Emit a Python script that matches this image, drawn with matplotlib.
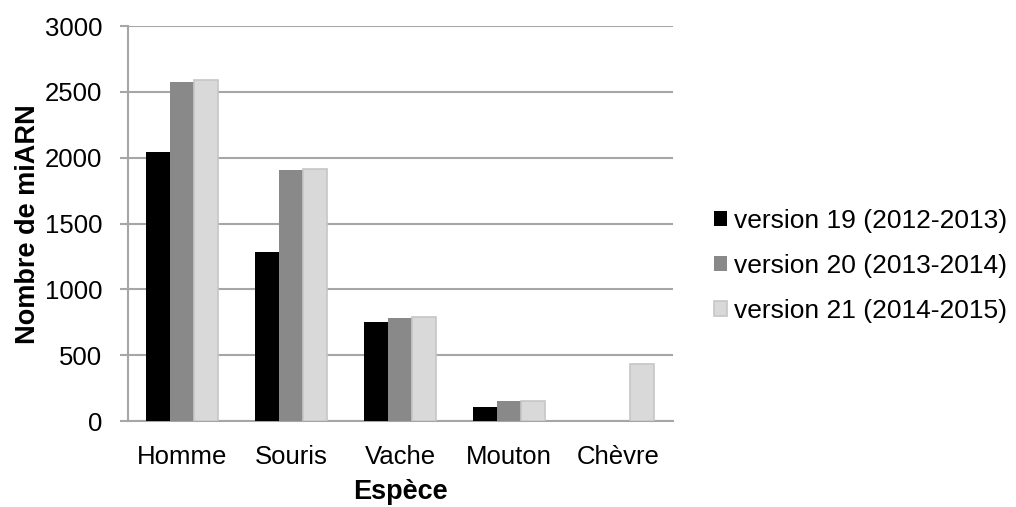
import matplotlib
matplotlib.use("Agg")
import matplotlib.pyplot as plt
import numpy as np

species = ["Homme", "Souris", "Vache", "Mouton", "Chèvre"]
series_labels = ["version 19 (2012-2013)", "version 20 (2013-2014)", "version 21 (2014-2015)"]
v19 = [2042, 1281, 755, 106, 0]
v20 = [2578, 1908, 783, 153, 0]
v21 = [2588, 1915, 793, 153, 436]
yticks = [0, 500, 1000, 1500, 2000, 2500, 3000]

colors = ["#000000", "#898989", "#d9d9d9"]
edges = ["#000000", "#898989", "#c6c6c6"]
edge_w = [0, 0, 1.2]
grid_c = "#a6a6a6"

plt.rcParams["font.family"] = ["Liberation Sans", "DejaVu Sans"]
fs_tick = 18.5
fs_leg = 19
fs_lab = 19.5

fig = plt.figure(figsize=(10.16, 5.07), dpi=100)
ax = fig.add_axes([0.1255, 0.1696, 0.5367, 0.7791])

x = np.arange(len(species))
w = 0.22
for i, (vals, lab) in enumerate(zip([v19, v20, v21], series_labels)):
    ax.bar(x + (i - 1) * w, vals, width=w, color=colors[i], edgecolor=edges[i],
           linewidth=edge_w[i], label=lab, zorder=3)

ax.set_xlim(-0.5, len(species) - 0.5)
ax.set_ylim(0, 3000)
ax.set_yticks(yticks)
ax.set_xticks(x)
ax.set_xticklabels(species, fontsize=fs_tick)
ax.tick_params(axis="y", labelsize=fs_tick, length=6, width=1.5, color=grid_c, pad=12)
ax.tick_params(axis="x", length=0, pad=17)
ax.yaxis.grid(True, color=grid_c, linewidth=1.5, zorder=0)
ax.set_axisbelow(True)
for s in ["top", "right"]:
    ax.spines[s].set_visible(False)
for s in ["left", "bottom"]:
    ax.spines[s].set_color(grid_c)
    ax.spines[s].set_linewidth(1.5)

fig.text(0.0276, 0.558, "Nombre de miARN", rotation=90, ha="center", va="center",
         fontsize=fs_lab, fontweight="bold")
fig.text(0.394, 0.0296, "Espèce", ha="center", va="center",
         fontsize=fs_lab, fontweight="bold")

fig.legend(loc="center left", bbox_to_anchor=(0.7028, 0.4753), frameon=False,
           fontsize=fs_leg, handlelength=0.49, handleheight=0.49, handletextpad=0.25,
           labelspacing=0.79, borderaxespad=0, borderpad=0)

fig.savefig("out.png", dpi=100)
